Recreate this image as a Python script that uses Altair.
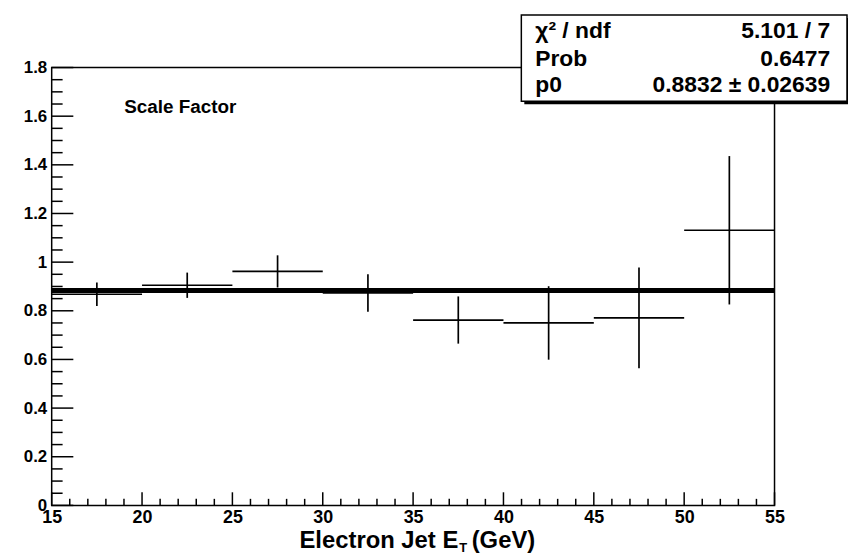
import altair as alt
import pandas as pd

# ---- data ----
bin_lo = [15, 20, 25, 30, 35, 40, 45, 50]
bin_hi = [20, 25, 30, 35, 40, 45, 50, 55]
bin_center = [17.5, 22.5, 27.5, 32.5, 37.5, 42.5, 47.5, 52.5]
scale_factor = [0.868, 0.905, 0.962, 0.873, 0.762, 0.750, 0.771, 1.131]
scale_err = [0.048, 0.052, 0.066, 0.077, 0.097, 0.151, 0.207, 0.305]

fit_p0 = 0.8832
fit_range = [15, 55]

stats_names = ["χ² / ndf", "Prob", "p0"]
stats_values = ["5.101 / 7", "0.6477", "0.8832 ± 0.02639"]

x_major = [15, 20, 25, 30, 35, 40, 45, 50, 55]
y_major = [0, 0.2, 0.4, 0.6, 0.8, 1.0, 1.2, 1.4, 1.6, 1.8]
x_minor = [v for v in range(15, 56) if v % 5 != 0]
y_minor = [round(i * 0.05, 2) for i in range(37) if i % 4 != 0]

# ---- tables ----
df = pd.DataFrame({
    "lo": bin_lo, "hi": bin_hi, "c": bin_center,
    "v": scale_factor, "e": scale_err,
})
df["vlo"] = df["v"] - df["e"]
df["vhi"] = df["v"] + df["e"]
fit_df = pd.DataFrame({"x0": [fit_range[0]], "x1": [fit_range[1]], "p0": [fit_p0]})
one = pd.DataFrame({"k": [0]})

W, H = 728, 441
FONT = "Liberation Sans"

xscale = alt.Scale(domain=[15, 55], nice=False, zero=False)
yscale = alt.Scale(domain=[0, 1.8], nice=False, zero=True)
xaxis = alt.Axis(values=x_major, ticks=False, domain=False, grid=False, title=None,
                 labelFont=FONT, labelFontWeight="bold", labelFontSize=18,
                 labelColor="black", labelPadding=3, labelFlush=False,
                 labelOverlap=False)
yaxis = alt.Axis(values=y_major, format="~g", ticks=False, domain=False, grid=False,
                 title=None, labelFont=FONT, labelFontWeight="bold", labelFontSize=17,
                 labelColor="black", labelPadding=5, labelOverlap=False)


def X(f):
    return alt.X(f, type="quantitative", scale=xscale, axis=xaxis)


def Y(f):
    return alt.Y(f, type="quantitative", scale=yscale, axis=yaxis)


hbars = alt.Chart(df).mark_rule(color="black", strokeWidth=1.7).encode(
    x=X("lo"), x2="hi", y=Y("v"))
vbars = alt.Chart(df).mark_rule(color="black", strokeWidth=1.7).encode(
    x=X("c"), y=Y("vlo"), y2="vhi")
fit = alt.Chart(fit_df).mark_rule(color="black", strokeWidth=5).encode(
    x=X("x0"), x2="x1", y=Y("p0"))

ymaj = alt.Chart(pd.DataFrame({"t": y_major})).mark_rule(color="black", strokeWidth=1.5).encode(
    y=Y("t"), x=alt.value(0), x2=alt.value(21.8))
ymin = alt.Chart(pd.DataFrame({"t": y_minor})).mark_rule(color="black", strokeWidth=1.5).encode(
    y=Y("t"), x=alt.value(0), x2=alt.value(11))
xmaj = alt.Chart(pd.DataFrame({"t": x_major})).mark_rule(color="black", strokeWidth=1.5).encode(
    x=X("t"), y=alt.value(H), y2=alt.value(H - 13.2))
xmin = alt.Chart(pd.DataFrame({"t": x_minor})).mark_rule(color="black", strokeWidth=1.5).encode(
    x=X("t"), y=alt.value(H), y2=alt.value(H - 6.6))


def txt(s, x, y, size, align="left"):
    return alt.Chart(one).mark_text(text=s, align=align, baseline="alphabetic",
                                    font=FONT, fontWeight="bold", fontSize=size,
                                    color="black").encode(x=alt.value(x), y=alt.value(y))


scale_label = txt("Scale Factor", 73, 46, 19)

# x axis title with subscript T
xt1 = txt("Electron Jet E", 409.5, 483.5, 24, align="right")
xt2 = txt("T", 410.5, 488, 13)
xt3 = txt("(GeV)", 423, 483.5, 24)

# stats box
shadow = alt.Chart(one).mark_rect(color="black").encode(
    x=alt.value(476), x2=alt.value(804), y=alt.value(-50), y2=alt.value(37))
box = alt.Chart(one).mark_rect(fill="white", stroke="black", strokeWidth=1.5).encode(
    x=alt.value(473), x2=alt.value(801), y=alt.value(-53), y2=alt.value(34))
row_y = [-30, -2, 24.5]
stats_layers = []
for name, val, ry in zip(stats_names, stats_values, row_y):
    stats_layers.append(txt(name, 487, ry, 23))
    stats_layers.append(txt(val, 784, ry, 23, align="right"))

chart = alt.layer(
    ymaj, ymin, xmaj, xmin, hbars, vbars, fit, scale_label, xt1, xt2, xt3,
    shadow, box, *stats_layers
).properties(
    width=W, height=H,
    autosize=alt.AutoSizeParams(type="none"),
    padding={"left": 44, "top": 58, "right": 74, "bottom": 47},
    background="white",
).configure_view(stroke="black", strokeWidth=1.5)

chart.save("out.html", embed_options={"renderer": "svg", "actions": False})
